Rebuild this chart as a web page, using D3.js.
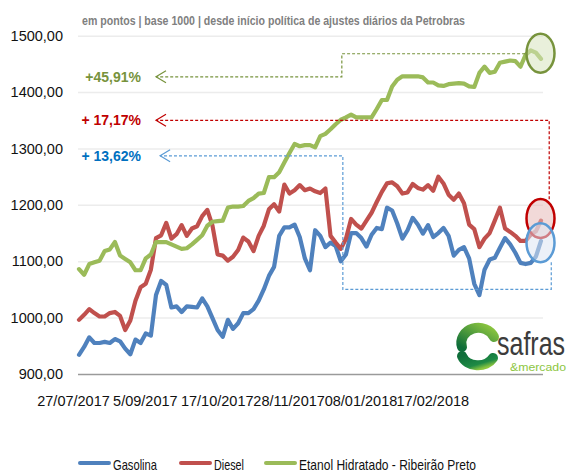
<!DOCTYPE html>
<html>
<head>
<meta charset="utf-8">
<script src="https://cdnjs.cloudflare.com/ajax/libs/d3/7.8.5/d3.min.js"></script>
<style>
    body { margin: 0; background: #fff; }
    text { font-family: "Liberation Sans", Arial, sans-serif; }
    .y-axis .domain, .x-axis .domain { display: none; }
    .y-axis line { stroke: #ececec; stroke-width: 1.5; }
    .y-axis text, .x-axis text { font-size: 14.5px; fill: #111; }
</style>
</head>
<body>
<div id="chart"></div>
<script>

// Tick labels (one label every 14 points)
var dateLabels = ["27/07/2017", "5/09/2017", "17/10/2017", "28/11/2017", "08/01/2018", "17/02/2018"];
var labelEvery = 14;

// Series values, index points (base 1000)
var gasolina = [934, 948, 965, 955, 955, 957, 955, 962, 958, 945,
    935, 961, 955, 972, 968, 1040, 1065, 1058, 1018, 1020,
    1010, 1020, 1019, 1018, 1034, 1020, 999, 978, 966, 996,
    980, 990, 1008, 1008, 1015, 1030, 1050, 1074, 1090, 1145,
    1160, 1160, 1165, 1143, 1105, 1084, 1155, 1145, 1125, 1133,
    1127, 1100, 1112, 1150, 1150, 1141, 1126, 1147, 1159, 1157,
    1195, 1190, 1167, 1140, 1155, 1177, 1165, 1149, 1164, 1143,
    1150, 1159, 1145, 1110, 1120, 1125, 1105, 1060, 1040, 1085,
    1103, 1106, 1124, 1141, 1130, 1115, 1097, 1095, 1097, 1108, 1136];

var diesel = [996, 1005, 1015, 1008, 1002, 1002, 1008, 1010, 1003, 978,
    995, 1030, 1054, 1060, 1085, 1141, 1146, 1168, 1140, 1148,
    1164, 1145, 1158, 1162, 1180, 1191, 1163, 1112, 1110, 1101,
    1108, 1120, 1142, 1135, 1118, 1145, 1163, 1192, 1201, 1188,
    1236, 1220, 1226, 1235, 1226, 1229, 1224, 1221, 1229, 1145,
    1133, 1122, 1140, 1175, 1165, 1158, 1172, 1186, 1205, 1223,
    1238, 1240, 1233, 1220, 1222, 1237, 1230, 1227, 1235, 1225,
    1250, 1238, 1218, 1209, 1220, 1203, 1165, 1157, 1125, 1140,
    1150, 1172, 1195, 1158, 1152, 1145, 1136, 1136, 1147, 1153, 1172];

var etanol = [1086, 1076, 1095, 1098, 1101, 1118, 1121, 1134, 1110, 1104,
    1098, 1084, 1084, 1105, 1112, 1134, 1134, 1134, 1130, 1126,
    1122, 1123, 1130, 1138, 1146, 1163, 1170, 1171, 1172, 1195,
    1197, 1197, 1198, 1207, 1212, 1220, 1221, 1249, 1249, 1258,
    1275, 1292, 1308, 1304, 1306, 1306, 1302, 1322, 1326, 1334,
    1343, 1351, 1355, 1360, 1355, 1355, 1355, 1355, 1370, 1386,
    1386, 1410, 1422, 1428, 1428, 1428, 1428, 1426, 1417, 1417,
    1412, 1411, 1414, 1415, 1416, 1415, 1410, 1409, 1434, 1445,
    1434, 1436, 1452, 1454, 1456, 1455, 1445, 1466, 1474, 1470, 1459];

var seriesNames = ["Gasolina", "Diesel", "Etanol Hidratado - Ribeirão Preto"];
var variacao = ["+ 13,62%", "+ 17,17%", "+45,91%"];
var subtitle = "em pontos | base 1000 | desde  início política de ajustes diários da Petrobras";

var colors = ["#4f81bd", "#c0504d", "#9bbb59"];
var noteColors = ["#0070c0", "#c00000", "#77933c"];
var dashColors = ["#5b9bd5", "#c00000", "#77933c"];

var width = 569, height = 471;

var svg = d3.select("#chart").append("svg")
    .attr("width", width)
    .attr("height", height);

// Scales
var x = d3.scaleLinear()
    .domain([0, gasolina.length - 1])
    .range([79, 541]);

var y = d3.scaleLinear()
    .domain([900, 1500])
    .range([374, 35.7]);

var ptBR = d3.formatLocale({ decimal: ",", thousands: ".", grouping: [3] });

// Y axis with gridlines
var yAxis = d3.axisLeft(y)
    .tickValues(d3.range(900, 1501, 100))
    .tickSizeInner(-465)
    .tickSizeOuter(0)
    .tickPadding(15)
    .tickFormat(ptBR.format(".2f"));

svg.append("g")
    .attr("class", "y-axis")
    .attr("transform", "translate(78,0)")
    .call(yAxis)
    .selectAll(".tick")
    .filter(function(d) { return d === 900; })
    .select("line")
    .style("stroke", "#9a9a9a")
    .style("stroke-width", 1.3);

// X axis labels
var xAxis = d3.axisBottom(x)
    .tickValues(dateLabels.map(function(d, i) { return i * labelEvery; }))
    .tickFormat(function(d, i) { return dateLabels[i]; })
    .tickSize(0)
    .tickPadding(22);

svg.append("g")
    .attr("class", "x-axis")
    .attr("transform", "translate(-6,374)")
    .call(xAxis);

// Subtitle
svg.append("text")
    .attr("x", 82)
    .attr("y", 25)
    .attr("textLength", 383)
    .attr("lengthAdjust", "spacingAndGlyphs")
    .style("font-size", "13px")
    .style("font-weight", "bold")
    .style("fill", "#808080")
    .text(subtitle);

// Lines
var line = d3.line()
    .x(function(d, i) { return x(i); })
    .y(function(d) { return y(d); });

var allSeries = [gasolina, diesel, etanol];

svg.selectAll(".serie")
    .data(allSeries)
    .enter().append("path")
    .attr("class", "serie")
    .attr("d", line)
    .style("fill", "none")
    .style("stroke", function(d, i) { return colors[i]; })
    .style("stroke-width", 4.2)
    .style("stroke-linejoin", "round")
    .style("stroke-linecap", "round");

// Annotation paths: [index, value] points, arrow tip is the last one
var notePaths = [
    [[92, 1098], [92, 1050], [51.4, 1050], [51.4, 1287], [15.8, 1287]],
    [[91.6, 1210], [91.6, 1350], [15, 1350]],
    [[86.9, 1468], [51.2, 1468], [51.2, 1427], [15, 1427]]
];

var noteLine = d3.line()
    .x(function(d) { return x(d[0]); })
    .y(function(d) { return y(d[1]); });

notePaths.forEach(function(p, i) {
    svg.append("path")
        .attr("d", noteLine(p))
        .style("fill", "none")
        .style("stroke", dashColors[i])
        .style("stroke-width", 1.2)
        .style("stroke-dasharray", "3,2");

    var tip = p[p.length - 1];
    var tx = x(tip[0]), ty = y(tip[1]);
    svg.append("path")
        .attr("d", "M" + (tx + 10) + "," + (ty - 6) + "L" + tx + "," + ty + "L" + (tx + 10) + "," + (ty + 6))
        .style("fill", "none")
        .style("stroke", dashColors[i])
        .style("stroke-width", 1.2);

    svg.append("text")
        .attr("x", 141)
        .attr("y", ty + 5)
        .attr("text-anchor", "end")
        .style("font-size", "14px")
        .style("font-weight", "bold")
        .style("fill", noteColors[i])
        .text(variacao[i]);
});

// Highlight ellipses at the last points
var circleValues = [1133, 1176, 1469];
var circleFill = ["#dce6f2", "#e6b9b8", "#d7e4bd"];
var circleStroke = ["#5b9bd5", "#c00000", "#77933c"];
var circleOrder = [1, 0, 2];

circleOrder.forEach(function(i) {
    svg.append("ellipse")
        .attr("cx", x(gasolina.length - 1) - 0.5)
        .attr("cy", y(circleValues[i]))
        .attr("rx", 14)
        .attr("ry", 19.5)
        .style("fill", circleFill[i])
        .style("fill-opacity", 0.55)
        .style("stroke", circleStroke[i])
        .style("stroke-width", 2.5);
});

// Logo safras & mercado
var defs = svg.append("defs");
var g1 = defs.append("linearGradient").attr("id", "logoTop")
    .attr("x1", "1").attr("y1", "0").attr("x2", "0").attr("y2", "1");
g1.append("stop").attr("offset", "0").attr("stop-color", "#8dc63f");
g1.append("stop").attr("offset", "1").attr("stop-color", "#0f6e3a");
var g2 = defs.append("linearGradient").attr("id", "logoBottom")
    .attr("x1", "0").attr("y1", "0").attr("x2", "1").attr("y2", "1");
g2.append("stop").attr("offset", "0").attr("stop-color", "#0f6e3a");
g2.append("stop").attr("offset", "0.7").attr("stop-color", "#1f8a45");
g2.append("stop").attr("offset", "1").attr("stop-color", "#8dc63f");

var logo = svg.append("g");
logo.append("path")
    .attr("d", "M494,337 A17,15 0 0 0 462,347")
    .style("fill", "none")
    .style("stroke", "url(#logoTop)")
    .style("stroke-width", 10)
    .style("stroke-linecap", "round");
logo.append("path")
    .attr("d", "M462,356 A17,14 0 0 0 493,358")
    .style("fill", "none")
    .style("stroke", "url(#logoBottom)")
    .style("stroke-width", 10)
    .style("stroke-linecap", "round");
logo.append("text")
    .attr("transform", "translate(497,355) scale(1,1.3)")
    .style("font-size", "25px")
    .style("fill", "#3c3c3c")
    .text("safras");
logo.append("text")
    .attr("x", 510)
    .attr("y", 371)
    .attr("textLength", 56)
    .attr("lengthAdjust", "spacingAndGlyphs")
    .style("font-size", "11.5px")
    .style("fill", "#8dc63f")
    .text("&mercado");

// Legend
var legendX = [79, 180, 265];
var legendW = [44, 30, 177];

var legend = svg.selectAll(".legend")
    .data(seriesNames)
    .enter().append("g")
    .attr("class", "legend")
    .attr("transform", function(d, i) { return "translate(" + legendX[i] + ",463)"; });

legend.append("line")
    .attr("x1", 1).attr("x2", 30)
    .style("stroke", function(d, i) { return colors[i]; })
    .style("stroke-width", 4)
    .style("stroke-linecap", "round");

legend.append("text")
    .attr("x", 34)
    .attr("y", 6.5)
    .attr("textLength", function(d, i) { return legendW[i]; })
    .attr("lengthAdjust", "spacingAndGlyphs")
    .style("font-size", "15px")
    .style("fill", "#111")
    .text(function(d) { return d; });

</script>
</body>
</html>
